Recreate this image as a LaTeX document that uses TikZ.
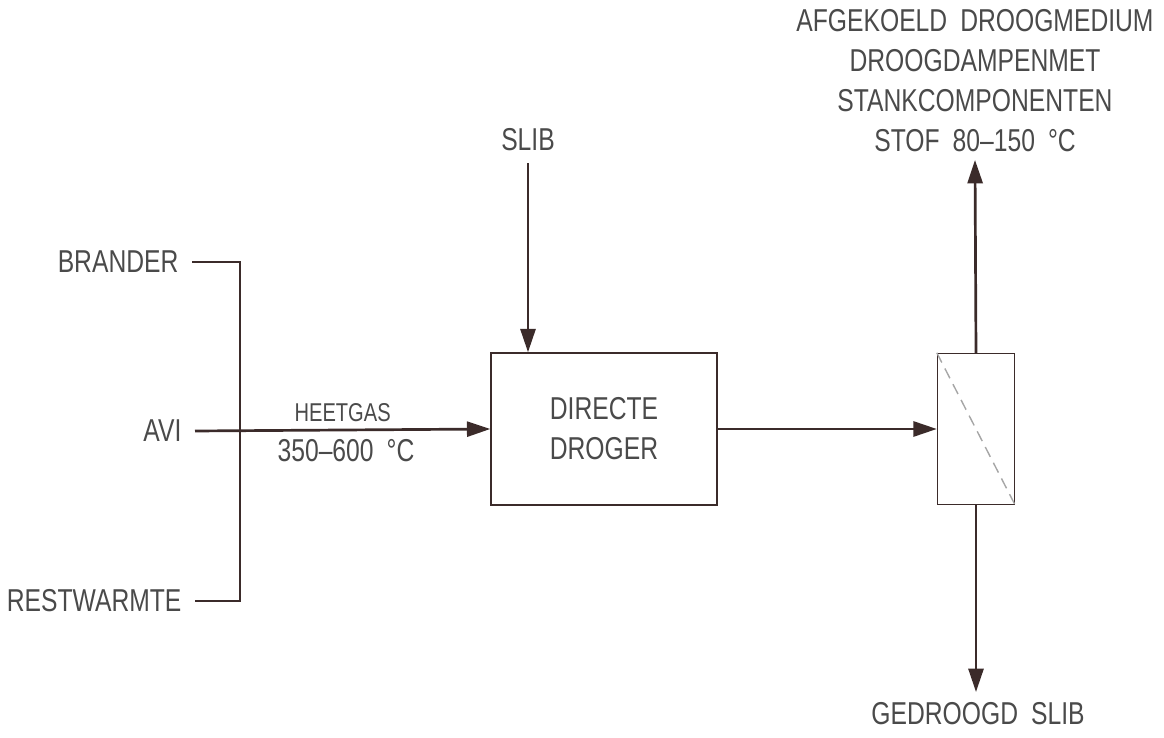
\documentclass[tikz,border=0pt]{standalone}
\usepackage{fontspec}
\setmainfont{Liberation Sans}[FakeStretch=0.78,WordSpace=1.9]
\usetikzlibrary{arrows.meta}
\definecolor{inkline}{HTML}{3B2B2A}
\definecolor{inktext}{HTML}{4A4A4A}

\tikzset{
  lbl/.style={font=\fontsize{27}{34}\selectfont, text=inktext, inner sep=0pt},
  src/.style={lbl, anchor=east, inner xsep=0.4cm},
  unit/.style={draw=inkline, line width=1.2pt, lbl},
  flow/.style={draw=inkline, line width=2.3pt, -{Triangle[length=0.7cm,width=0.45cm]}},
  feed/.style={draw=inkline, line width=2.3pt}
}

\begin{document}
\begin{tikzpicture}[x=0.03cm,y=-0.03cm]
  \useasboundingbox (0,0) rectangle (1164,738);

  % bronnen heetgas
  \node[src] (brander) at (192,262) {BRANDER};
  \node[src] (avi) at (195,431) {AVI};
  \node[src] (restwarmte) at (195,601) {RESTWARMTE};
  \coordinate (bustop) at (240,262);
  \coordinate (busbot) at (240,601);

  % apparaten
  \node[unit, minimum width=6.78cm, minimum height=4.56cm, align=center] (droger) at (604,429) {DIRECTE\\DROGER};
  \node[unit, minimum width=2.31cm, minimum height=4.53cm] (scheider) at (976,429) {};
  \draw[gray!70, line width=1.2pt, dash pattern=on 0.33cm off 0.2cm] (scheider.north west) -- (scheider.south east);

  % in- en uitgaande stromen
  \node[lbl, inner ysep=0.35cm] (slib) at (528,140) {SLIB};
  \node[lbl, anchor=south, align=center, inner ysep=0.25cm] (damp) at (975,160)
    {AFGEKOELD DROOGMEDIUM\\DROOGDAMPENMET\\STANKCOMPONENTEN\\STOF 80–150 °C};
  \node[lbl, anchor=north, inner ysep=0.3cm] (gedroogd) at (978,692) {GEDROOGD SLIB};

  \draw[feed] (brander.east) -- (bustop) -- (busbot) -- (restwarmte.east);
  \draw[flow] (avi.east) -- node[lbl, above=0.22cm] {\fontsize{22}{26}\selectfont HEETGAS}
    node[lbl, below=0.25cm, xshift=0.1cm] {350–600 °C} (droger.west);
  \draw[flow] (slib.south) -- (slib.south |- droger.north);
  \draw[flow] (droger.east) -- (scheider.west);
  \draw[flow] (scheider.north) -- (damp.south);
  \draw[flow] (scheider.south) -- (gedroogd.north -| scheider.south);
\end{tikzpicture}
\end{document}
